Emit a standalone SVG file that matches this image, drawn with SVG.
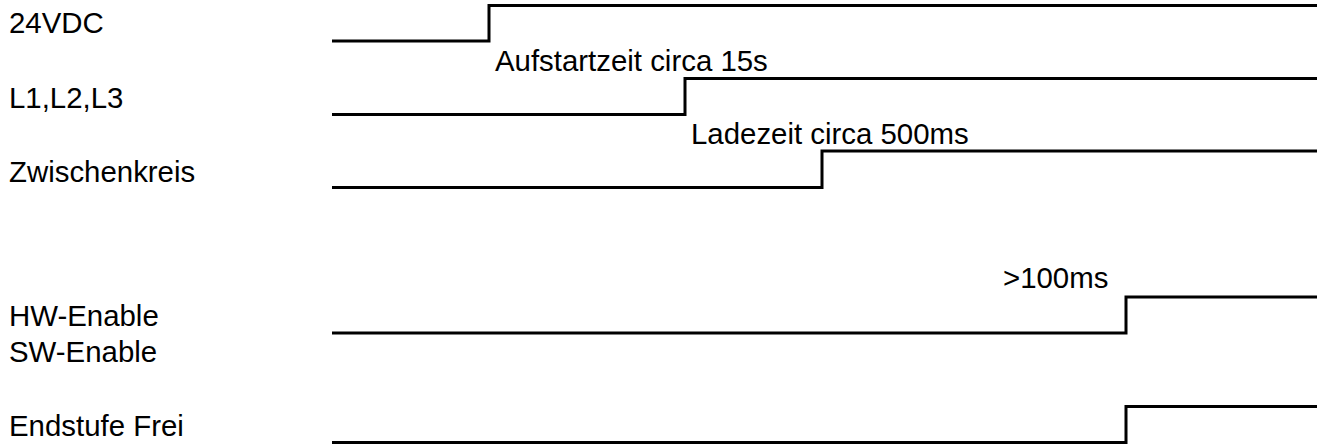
<svg xmlns="http://www.w3.org/2000/svg" width="1317" height="444" viewBox="0 0 1317 444">
<style>
.lbl{font-family:"Liberation Sans",Arial,sans-serif;font-size:29.4px;fill:#000}
.sig{fill:none;stroke:#000;stroke-width:3;stroke-linejoin:miter}
</style>
<rect width="1317" height="444" fill="#fff"/>
<g id="label-24vdc"><text class="lbl" x="9" y="33">24VDC</text></g>
<g id="label-l123"><text class="lbl" x="9" y="108">L1,L2,L3</text></g>
<g id="label-zwk"><text class="lbl" x="9" y="182">Zwischenkreis</text></g>
<g id="label-hw"><text class="lbl" x="9" y="326">HW-Enable</text></g>
<g id="label-sw"><text class="lbl" x="9" y="362">SW-Enable</text></g>
<g id="label-endstufe"><text class="lbl" x="9" y="436">Endstufe Frei</text></g>
<g id="note-aufstart"><text class="lbl" x="495" y="71">Aufstartzeit circa 15s</text></g>
<g id="note-ladezeit"><text class="lbl" x="691" y="144">Ladezeit circa 500ms</text></g>
<g id="note-100ms"><text class="lbl" x="1003" y="288">&gt;100ms</text></g>
<g id="connectors">
<path class="sig" d="M332 41 H489 V5.5 H1317"/>
<path class="sig" d="M332 114.5 H685 V78.5 H1317"/>
<path class="sig" d="M332 187.5 H822 V151 H1317"/>
<path class="sig" d="M332 333 H1126 V297 H1317"/>
<path class="sig" d="M332 442.5 H1126 V406.5 H1317"/>
</g>
</svg>
